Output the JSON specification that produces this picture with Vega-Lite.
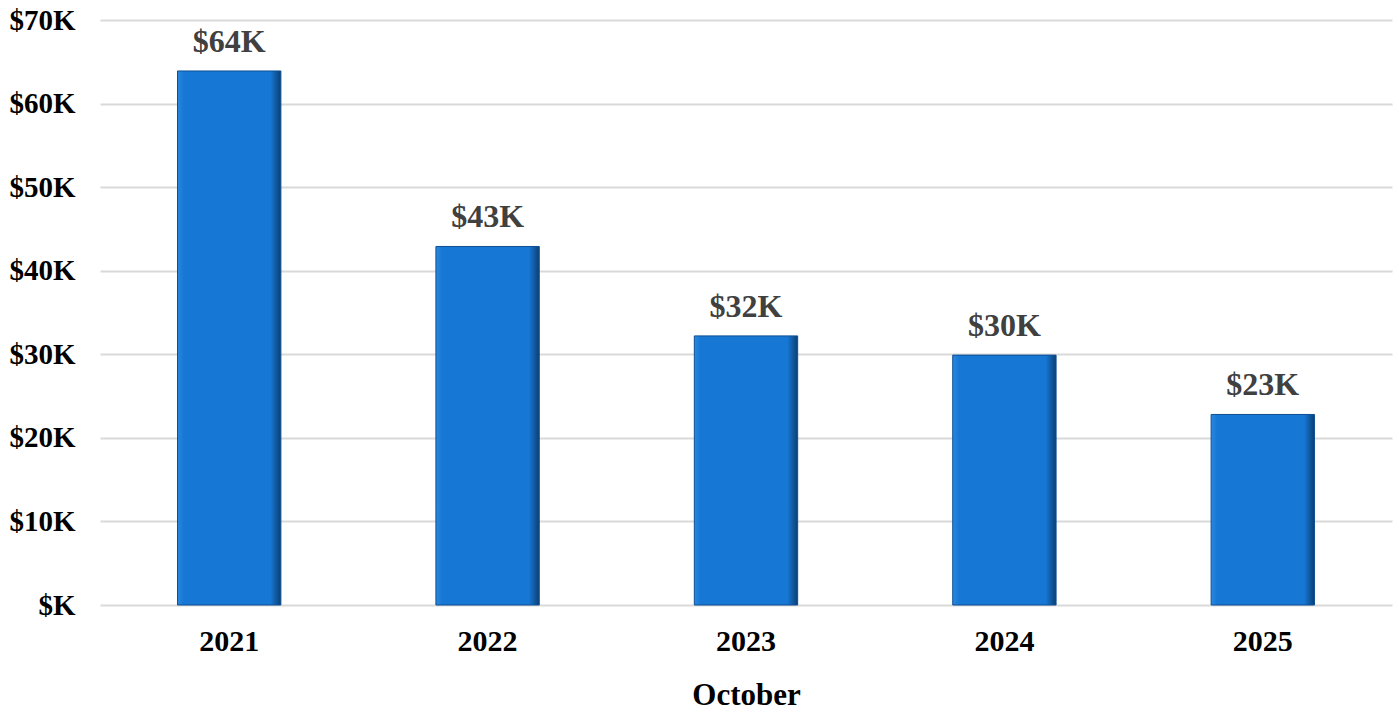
{
  "$schema": "https://vega.github.io/schema/vega-lite/v6.json",
  "autosize": {"type": "none"},
  "width": 1292,
  "height": 585,
  "padding": {"left": 100, "top": 20, "right": 7, "bottom": 108},
  "background": "white",
  "config": {"view": {"stroke": null}, "font": "Liberation Serif"},
  "data": {"values": [
    {"year": "2021", "sales": 63.9},
    {"year": "2022", "sales": 42.9},
    {"year": "2023", "sales": 32.2},
    {"year": "2024", "sales": 29.9},
    {"year": "2025", "sales": 22.8}
  ]},
  "encoding": {
    "x": {"field": "year", "type": "nominal", "sort": null,
      "scale": {"paddingInner": 0.6, "paddingOuter": 0.3},
      "axis": {"title": "October", "labelAngle": 0, "domain": false, "ticks": false,
        "labelFont": "Liberation Serif", "labelFontSize": 30, "labelFontWeight": "bold", "labelColor": "#000000",
        "labelPadding": 21, "titleFont": "Liberation Serif", "titleFontSize": 31, "titleFontWeight": "bold",
        "titleColor": "#000000", "titlePadding": 24}},
    "y": {"field": "sales", "type": "quantitative",
      "scale": {"domain": [0, 70]},
      "axis": {"title": null, "values": [0, 10, 20, 30, 40, 50, 60, 70], "domain": false, "ticks": false,
        "labelExpr": "'$' + (datum.value == 0 ? '' : datum.value) + 'K'",
        "labelFont": "Liberation Serif", "labelFontSize": 29, "labelFontWeight": "bold", "labelColor": "#000000",
        "labelPadding": 25, "gridColor": "#d9d9d9", "gridWidth": 2}}
  },
  "layer": [
    {"mark": {"type": "bar", "stroke": "#0d4f94", "strokeWidth": 1,
      "color": {"gradient": "linear", "x1": 0, "x2": 1, "y1": 0, "y2": 0,
        "stops": [{"offset": 0, "color": "#2a88e0"}, {"offset": 0.06, "color": "#1777d4"},
                  {"offset": 0.9, "color": "#1777d4"}, {"offset": 1, "color": "#0b3f73"}]}}},
    {"transform": [{"calculate": "'$' + round(datum.sales) + 'K'", "as": "label"}],
     "mark": {"type": "text", "baseline": "alphabetic", "dy": -19, "font": "Liberation Serif",
      "fontSize": 32, "fontWeight": "bold", "color": "#404040"},
     "encoding": {"text": {"field": "label"}}}
  ]
}
